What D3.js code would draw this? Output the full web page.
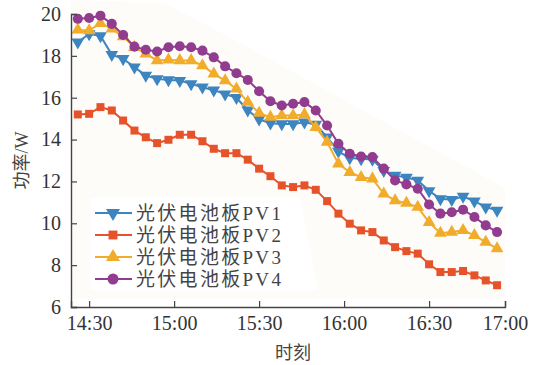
<!DOCTYPE html>
<html>
<head>
<meta charset="utf-8">
<script src="https://cdn.jsdelivr.net/npm/d3@7"></script>
<style>
  body { margin: 0; background: #fff; }
</style>
</head>
<body>
<div id="chart"></div>
<script>
// time stamps, every 4 min
const times = ["14:26","14:30","14:34","14:38","14:42","14:46","14:50","14:54","14:58",
  "15:02","15:06","15:10","15:14","15:18","15:22","15:26","15:30","15:34","15:38","15:42",
  "15:46","15:50","15:54","15:58","16:02","16:06","16:10","16:14","16:18","16:22","16:26",
  "16:30","16:34","16:38","16:42","16:46","16:50","16:54"];

const pv1 = [18.65,19.05,18.95,18.06,17.86,17.46,17.06,16.9,16.85,16.82,16.66,16.5,16.36,16.17,
  16.0,15.4,14.97,14.78,14.75,14.75,14.83,14.72,14.12,13.43,13.12,13.08,13.05,12.52,12.29,12.19,
  12.05,11.55,11.17,11.13,11.28,11.06,10.77,10.62];
const pv2 = [15.2,15.23,15.55,15.39,14.91,14.43,14.11,13.83,13.99,14.23,14.23,13.92,13.56,13.35,
  13.35,13.04,12.61,12.25,11.81,11.73,11.81,11.6,11.06,10.46,9.98,9.66,9.58,9.18,8.86,8.67,
  8.55,8.04,7.67,7.67,7.72,7.51,7.27,7.04];
const pv3 = [19.24,19.21,19.56,19.29,18.92,18.41,18.1,17.78,17.81,17.78,17.78,17.54,17.14,16.82,
  16.42,15.79,15.26,15.07,15.15,15.15,15.2,14.59,13.88,12.84,12.44,12.2,12.13,11.41,11.09,10.96,
  10.77,10.05,9.53,9.58,9.66,9.42,9.1,8.79];
const pv4 = [19.77,19.81,19.92,19.53,19.0,18.44,18.29,18.21,18.41,18.46,18.41,18.25,17.93,17.5,
  17.17,16.85,16.31,15.83,15.63,15.71,15.79,15.39,14.67,13.8,13.32,13.19,13.16,12.61,12.05,11.86,
  11.65,10.9,10.46,10.53,10.65,10.3,9.9,9.58];

const seriesNames = ["光伏电池板PV1","光伏电池板PV2","光伏电池板PV3","光伏电池板PV4"];
const xTickLabels = ["14:30","15:00","15:30","16:00","16:30","17:00"];
const yTicks = [6,8,10,12,14,16,18,20];

const colors = ["#3d85c0", "#e6532b", "#f2ac2c", "#913c8f"];
const symbols = [d3.symbolTriangle, d3.symbolSquare, d3.symbolTriangle, d3.symbolCircle];
const symSize = [70, 64, 70, 80];
const symRot = [180, 0, 0, 0];

const serif = "'Liberation Serif', 'Times New Roman', 'DejaVu Serif', 'Noto Sans CJK SC', serif";

const margin = {top: 14, right: 34, bottom: 58, left: 71},
    width = 539 - margin.left - margin.right,
    height = 365 - margin.top - margin.bottom;

const toMin = s => { const p = s.split(":"); return +p[0] * 60 + +p[1]; };

// note : l'axe du graphique original finit un peu avant 17:00, le label est posé au bout
const x = d3.scaleLinear()
    .domain([toMin("14:23") + 0.6, toMin("16:56") + 0.8])
    .range([0, width])
    .clamp(true);

const y = d3.scaleLinear()
    .domain([6, 20])
    .range([height, 0]);

const svg = d3.select("#chart").append("svg")
    .attr("width", 539)
    .attr("height", 365);

// fond légèrement crème (scan)
svg.append("polygon")
    .attr("points", "71,0 165,3 235,40 505,188 505,298 320,299 71,299")
    .attr("fill", "#fefcf8");

const g = svg.append("g")
    .attr("transform", "translate(" + margin.left + "," + margin.top + ")");

const all = [pv1, pv2, pv3, pv4];

const line = d3.line()
    .x((d, i) => x(toMin(times[i])))
    .y(d => y(d));

all.forEach((vals, k) => {
    g.append("path")
        .datum(vals)
        .attr("fill", "none")
        .attr("stroke", colors[k])
        .attr("stroke-width", 2)
        .attr("d", line);

    g.selectAll(".m" + k)
        .data(vals)
        .enter().append("path")
        .attr("class", "m" + k)
        .attr("d", d3.symbol().type(symbols[k]).size(symSize[k]))
        .attr("fill", colors[k])
        .attr("transform", (d, i) => "translate(" + x(toMin(times[i])) + "," + y(d) + ") rotate(" + symRot[k] + ")");
});

// axes
const yAxis = g.append("g")
    .call(d3.axisLeft(y).tickValues(yTicks).tickSize(-6).tickPadding(10).tickFormat(d3.format("d")));
yAxis.select(".domain").attr("stroke", "#444").attr("stroke-width", 1.4);
yAxis.selectAll(".tick line").attr("stroke", "#444").attr("stroke-width", 1.2);
yAxis.selectAll("text").style("font-size", "20px").style("font-family", serif).attr("fill", "#333");

const xAxis = g.append("g")
    .attr("transform", "translate(0," + height + ")")
    .call(d3.axisBottom(x).tickValues(xTickLabels.map(toMin)).tickSize(-6).tickPadding(9)
        .tickFormat((d, i) => xTickLabels[i]));
xAxis.select(".domain").attr("stroke", "#444").attr("stroke-width", 1.4);
xAxis.selectAll(".tick line").attr("stroke", "#444").attr("stroke-width", 1.2);
xAxis.selectAll("text").style("font-size", "20px").style("font-family", serif).attr("fill", "#333");

// titres des axes
svg.append("text")
    .attr("transform", "translate(28," + (margin.top + height / 2) + ") rotate(-90)")
    .attr("text-anchor", "middle")
    .style("font-size", "18px")
    .style("font-family", serif)
    .attr("fill", "#444")
    .text("功率/W");

svg.append("text")
    .attr("x", 293)
    .attr("y", 359)
    .attr("text-anchor", "middle")
    .style("font-size", "18px")
    .style("font-family", serif)
    .attr("fill", "#444")
    .text("时刻");

// légende
const legend = svg.append("g");
legend.append("polygon")
    .attr("points", "90,198 300,198 318,290 90,290")
    .attr("fill", "#fff");

seriesNames.forEach((name, k) => {
    const ly = 213 + k * 22;
    legend.append("line")
        .attr("x1", 95).attr("x2", 132)
        .attr("y1", ly).attr("y2", ly)
        .attr("stroke", colors[k]).attr("stroke-width", 2);
    legend.append("path")
        .attr("d", d3.symbol().type(symbols[k]).size(symSize[k] + 15))
        .attr("fill", colors[k])
        .attr("transform", "translate(113," + ly + ") rotate(" + symRot[k] + ")");
    legend.append("text")
        .attr("x", 136)
        .attr("y", ly + 7)
        .style("font-size", "19px")
        .style("font-family", serif)
        .style("letter-spacing", "2.3px")
        .attr("fill", "#444")
        .text(name);
});
</script>
</body>
</html>
